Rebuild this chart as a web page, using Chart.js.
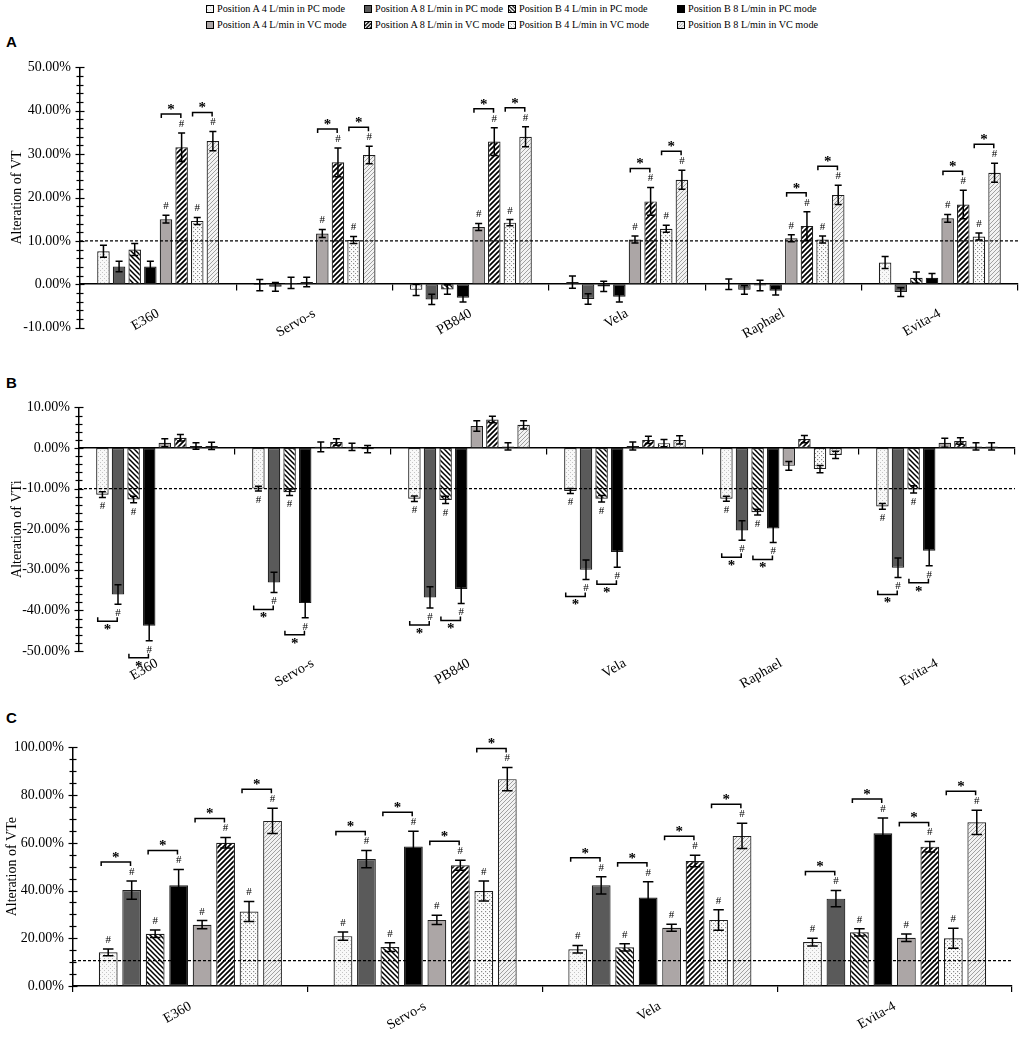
<!DOCTYPE html>
<html>
<head>
<meta charset="utf-8">
<script src="https://cdn.jsdelivr.net/npm/chart.js@4.4.1/dist/chart.umd.min.js"></script>
<style>
  body { margin: 0; background: #fff; }
  #wrap { position: relative; width: 1021px; height: 1039px; background: #fff; overflow: hidden; }
  canvas.panel { position: absolute; left: 0; }
  .tag { position: absolute; left: 6px; font: bold 15px "Liberation Sans", Arial, sans-serif; }
  .leg { position: absolute; font: 10.2px "Liberation Serif", serif; white-space: nowrap; display: flex; align-items: center; }
  .leg canvas { width: 8px; height: 8px; border: 1px solid #000; margin-right: 3px; box-sizing: border-box; }
</style>
</head>
<body>
<div id="wrap">
  <div id="legend"></div>
  <div class="tag" style="top:33px">A</div>
  <div class="tag" style="top:374px">B</div>
  <div class="tag" style="top:709px">C</div>
  <canvas id="chartA" class="panel" width="1021" height="295" style="top:50px"></canvas>
  <canvas id="chartB" class="panel" width="1021" height="315" style="top:390px"></canvas>
  <canvas id="chartC" class="panel" width="1021" height="309" style="top:730px"></canvas>
</div>
<script>
const seriesNames = [
  'Position A 4 L/min in PC mode', 'Position A 8 L/min in PC mode',
  'Position B 4 L/min in PC mode', 'Position B 8 L/min in PC mode',
  'Position A 4 L/min in VC mode', 'Position A 8 L/min in VC mode',
  'Position B 4 L/min in VC mode', 'Position B 8 L/min in VC mode'
]

// panel A - VT
const vtCats = ['E360', 'Servo-s', 'PB840', 'Vela', 'Raphael', 'Evita-4']
const vtMean = [
  [7.6, -0.2, -1.3, 0.5, 0.0, 5.0],
  [4.1, -0.6, -3.5, -3.4, -1.3, -1.8],
  [8.0, 0.3, -1.2, -0.5, -0.3, 1.5],
  [4.1, 0.5, -3.1, -2.9, -1.5, 1.5],
  [15.0, 11.7, 13.2, 10.3, 10.6, 15.2],
  [31.6, 28.1, 32.9, 19.1, 13.4, 18.4],
  [14.6, 10.2, 14.2, 12.8, 10.3, 11.0],
  [33.0, 29.8, 34.0, 24.1, 20.6, 25.7]
]
const vtErr = [
  [1.4, 1.3, 1.3, 1.4, 1.2, 1.4],
  [1.2, 1.0, 1.2, 1.2, 1.0, 1.0],
  [1.4, 1.3, 1.1, 1.2, 1.2, 1.3],
  [1.2, 1.1, 1.0, 1.2, 1.0, 1.0],
  [0.9, 0.9, 0.8, 0.8, 0.8, 0.9],
  [3.3, 3.3, 3.2, 3.2, 3.3, 3.3],
  [0.8, 0.8, 0.7, 0.8, 0.8, 0.8],
  [2.2, 2.0, 2.3, 2.2, 2.2, 2.2]
]

// panel B - VTi
const vtiCats = ['E360', 'Servo-s', 'PB840', 'Vela', 'Raphael', 'Evita-4']
const vtiMean = [
  [-11.5, -10.0, -12.5, -10.6, -12.5, -14.4],
  [-36.1, -33.1, -36.8, -30.0, -20.3, -29.5],
  [-12.7, -10.9, -12.8, -12.5, -15.8, -10.2],
  [-43.8, -38.2, -34.7, -25.6, -19.8, -25.3],
  [1.3, 0.3, 5.4, 0.5, -4.4, 1.3],
  [2.5, 1.5, 7.0, 2.0, 2.2, 1.7],
  [0.5, 0.3, 0.4, 1.2, -5.2, 0.4],
  [0.5, -0.3, 5.7, 2.0, -1.7, 0.4]
]
const vtiErr = [
  [0.7, 0.6, 0.7, 0.6, 0.6, 0.7],
  [2.4, 2.5, 2.6, 2.4, 2.4, 2.4],
  [0.8, 0.8, 0.9, 0.8, 0.7, 0.9],
  [3.7, 3.6, 3.6, 3.8, 3.5, 3.7],
  [1.0, 1.2, 1.3, 1.0, 1.1, 1.1],
  [0.8, 0.8, 0.8, 0.9, 0.9, 0.8],
  [0.8, 0.9, 0.9, 0.9, 0.9, 0.9],
  [0.9, 0.9, 1.0, 1.0, 0.9, 0.9]
]

// panel C - VTe
const vteCats = ['E360', 'Servo-s', 'Vela', 'Evita-4']
const vteMean = [
  [14.1, 20.9, 15.4, 18.4],
  [40.2, 53.2, 42.2, 36.6],
  [21.9, 16.3, 16.2, 22.5],
  [42.2, 58.5, 37.1, 64.0],
  [25.7, 27.7, 24.4, 20.2],
  [60.0, 50.6, 52.4, 58.4],
  [31.2, 39.8, 27.7, 20.0],
  [69.2, 86.7, 62.9, 68.6]
]
const vteErr = [
  [1.4, 1.7, 1.6, 1.6],
  [3.8, 3.6, 3.6, 3.4],
  [1.6, 1.8, 1.5, 1.5],
  [6.6, 6.4, 6.6, 6.4],
  [1.7, 1.9, 1.5, 1.6],
  [2.2, 2.1, 2.4, 2.2],
  [4.2, 4.2, 4.3, 4.2],
  [5.3, 4.9, 5.3, 5.1]
]

Chart.defaults.font.family = '"Liberation Serif", "Times New Roman", serif'
Chart.defaults.color = '#000'

// fill patterns
function tile(size, draw) {
  const c = document.createElement('canvas')
  c.width = size; c.height = size
  const g = c.getContext('2d')
  draw(g, size)
  return c
}
const tiles = [
  tile(4, (g, s) => { g.fillStyle = '#f8f8f8'; g.fillRect(0, 0, s, s); g.fillStyle = '#c4c4c4'; g.fillRect(0, 0, 1, 1); g.fillRect(2, 2, 1, 1) }),
  tile(4, (g, s) => { g.fillStyle = '#5a5a5a'; g.fillRect(0, 0, s, s) }),
  tile(5, (g, s) => {
    g.fillStyle = '#fff'; g.fillRect(0, 0, s, s)
    g.strokeStyle = '#000'; g.lineWidth = 1.5
    g.beginPath(); g.moveTo(-1, -1); g.lineTo(s + 1, s + 1); g.moveTo(-1, s - 1); g.lineTo(1, s + 1); g.moveTo(s - 1, -1); g.lineTo(s + 1, 1); g.stroke()
  }),
  tile(4, (g, s) => { g.fillStyle = '#000'; g.fillRect(0, 0, s, s) }),
  tile(4, (g, s) => { g.fillStyle = '#aca6a6'; g.fillRect(0, 0, s, s) }),
  tile(5, (g, s) => {
    g.fillStyle = '#fff'; g.fillRect(0, 0, s, s)
    g.strokeStyle = '#000'; g.lineWidth = 1.7
    g.beginPath(); g.moveTo(-1, s + 1); g.lineTo(s + 1, -1); g.moveTo(-1, 1); g.lineTo(1, -1); g.moveTo(s - 1, s + 1); g.lineTo(s + 1, s - 1); g.stroke()
  }),
  tile(4, (g, s) => { g.fillStyle = '#fbfbfb'; g.fillRect(0, 0, s, s); g.fillStyle = '#8a8a8a'; g.fillRect(1, 1, 1.2, 1.2); g.fillRect(3, 3, 1, 1) }),
  tile(4, (g, s) => {
    g.fillStyle = '#f2f2f2'; g.fillRect(0, 0, s, s)
    g.strokeStyle = '#a0a0a0'; g.lineWidth = 1
    g.beginPath(); g.moveTo(-1, s + 1); g.lineTo(s + 1, -1); g.stroke()
  })
]
const patCtx = document.createElement('canvas').getContext('2d')
const fills = tiles.map(t => patCtx.createPattern(t, 'repeat'))

// legend
const legCols = [206, 364, 508, 677]
const legRows = [3, 19]
const legend = document.getElementById('legend')
seriesNames.forEach((name, i) => {
  const item = document.createElement('div')
  item.className = 'leg'
  item.style.left = legCols[i % 4] + 'px'
  item.style.top = legRows[Math.floor(i / 4)] + 'px'
  const sw = document.createElement('canvas')
  sw.width = 8; sw.height = 8
  const g = sw.getContext('2d')
  g.fillStyle = g.createPattern(tiles[i], 'repeat')
  g.fillRect(0, 0, 8, 8)
  item.appendChild(sw)
  item.appendChild(document.createTextNode(name))
  legend.appendChild(item)
})

// error bars, #, brackets, dashed reference line
const marksPlugin = {
  id: 'marks',
  afterDatasetsDraw(chart, args, opts) {
    const { ctx, chartArea } = chart
    const ys = chart.scales.y
    ctx.save()
    ctx.strokeStyle = '#000'
    ctx.fillStyle = '#000'
    const ty = ys.getPixelForValue(opts.threshold)
    ctx.lineWidth = 1.3
    ctx.setLineDash([3, 2])
    ctx.beginPath(); ctx.moveTo(chartArea.left, ty); ctx.lineTo(chartArea.right, ty); ctx.stroke()
    ctx.setLineDash([])

    const ends = chart.data.datasets.map((ds, i) => ds.data.map((v, j) => {
      const e = opts.errs[i][j]
      return { top: ys.getPixelForValue(v + e), bot: ys.getPixelForValue(v - e) }
    }))

    ctx.lineWidth = 1.5
    ctx.textAlign = 'center'
    ctx.textBaseline = 'middle'
    chart.data.datasets.forEach((ds, i) => {
      const meta = chart.getDatasetMeta(i)
      meta.data.forEach((bar, j) => {
        const { top, bot } = ends[i][j]
        const cap = bar.width * 0.28
        ctx.beginPath()
        ctx.moveTo(bar.x, top); ctx.lineTo(bar.x, bot)
        ctx.moveTo(bar.x - cap, top); ctx.lineTo(bar.x + cap, top)
        ctx.moveTo(bar.x - cap, bot); ctx.lineTo(bar.x + cap, bot)
        ctx.stroke()
        if (opts.hash.includes(i)) {
          ctx.font = '11px "Liberation Serif", serif'
          const hy = ds.data[j] >= 0 ? top - 9 : bot + 9
          ctx.fillText('#', bar.x, hy)
        }
      })
    })

    opts.pairs.forEach(([a, b]) => {
      const ma = chart.getDatasetMeta(a), mb = chart.getDatasetMeta(b)
      ma.data.forEach((ba, j) => {
        const bb = mb.data[j]
        const pitch = bb.x - ba.x
        const x1 = ba.x - pitch * 0.3, x2 = bb.x - pitch * 0.05
        let yb, tick, sy
        if (opts.dir > 0) {
          yb = Math.min(ends[a][j].top, ends[b][j].top) - 19
          tick = 4; sy = yb - 4
        } else {
          yb = Math.max(ends[a][j].bot, ends[b][j].bot) + 17
          tick = -4; sy = yb + 9
        }
        ctx.beginPath()
        ctx.moveTo(x1, yb + tick); ctx.lineTo(x1, yb); ctx.lineTo(x2, yb); ctx.lineTo(x2, yb + tick)
        ctx.stroke()
        ctx.font = 'bold 15px "Liberation Serif", serif'
        ctx.fillText('*', (x1 + x2) / 2, sy)
      })
    })
    ctx.restore()
  },
  afterDraw(chart) {
    // y tick marks crossing the axis line
    const ys = chart.scales.y
    const { ctx } = chart
    const x = ys.right
    ctx.save()
    ctx.strokeStyle = '#000'
    ctx.lineWidth = 1.2
    ys.ticks.forEach(t => {
      const y = Math.round(ys.getPixelForValue(t.value)) + 0.5
      const len = t.label ? 4.5 : 3.5
      ctx.beginPath(); ctx.moveTo(x - len, y); ctx.lineTo(x + len, y); ctx.stroke()
    })
    ctx.restore()
  }
}

function pctLabel(every) {
  return v => Math.abs(v / every - Math.round(v / every)) < 1e-6 ? v.toFixed(2) + '%' : ''
}

function makeChart(id, cats, means, errs, cfg) {
  const xTicks = { minRotation: 30, maxRotation: 30, autoSkip: false, padding: cfg.labelPad, font: { size: 14 }, color: '#000' }
  const scales = {
    x: {
      type: 'category',
      position: cfg.atZero ? { y: 0 } : 'bottom',
      offset: true,
      grid: { display: true, drawOnChartArea: false, drawTicks: true, tickLength: 6, color: '#000', lineWidth: 1.2, offset: true },
      border: { display: true, color: '#000', width: 1.5 },
      ticks: Object.assign({}, xTicks, { display: !cfg.bottomLabels }),
      afterFit: s => { s.height = cfg.xHeight }
    },
    y: {
      min: cfg.yMin,
      max: cfg.yMax,
      ticks: { stepSize: cfg.step, autoSkip: false, callback: pctLabel(cfg.every), padding: 9, font: { size: 14 }, color: '#000' },
      grid: { display: false, drawTicks: false },
      border: { display: true, color: '#000', width: 1.5 },
      title: { display: true, text: cfg.title, font: { size: 14 }, color: '#000', padding: { top: cfg.titlePad, bottom: 0 } },
      afterFit: s => { s.width = cfg.yWidth }
    }
  }
  if (cfg.bottomLabels) {
    scales.x2 = {
      type: 'category',
      labels: cats,
      position: 'bottom',
      offset: true,
      grid: { display: false, drawTicks: false },
      border: { display: false },
      ticks: xTicks,
      afterFit: s => { s.height = cfg.bottomLabels }
    }
  }
  return new Chart(document.getElementById(id), {
    type: 'bar',
    data: {
      labels: cats,
      datasets: seriesNames.map((name, i) => ({
        label: name,
        data: means[i],
        backgroundColor: fills[i],
        borderColor: '#1e1e1e',
        borderWidth: 1.2,
        borderSkipped: false,
        barPercentage: 0.8,
        categoryPercentage: 0.8
      }))
    },
    options: {
      responsive: false,
      animation: false,
      layout: { padding: cfg.padding },
      scales: scales,
      plugins: {
        legend: { display: false },
        tooltip: { enabled: false },
        marks: { errs: errs, hash: cfg.hash, pairs: cfg.pairs, dir: cfg.dir, threshold: cfg.threshold }
      }
    },
    plugins: [marksPlugin]
  })
}

makeChart('chartA', vtCats, vtMean, vtErr, {
  atZero: true, xHeight: 0, labelPad: 15, yMin: -10, yMax: 50, step: 2, every: 10,
  title: 'Alteration of VT', titlePad: 9, yWidth: 80,
  padding: { top: 16, bottom: 14, left: 0, right: 3 },
  hash: [4, 5, 6, 7], pairs: [[4, 5], [6, 7]], dir: 1, threshold: 10
})

makeChart('chartB', vtiCats, vtiMean, vtiErr, {
  atZero: true, xHeight: 0, bottomLabels: 54, labelPad: 4, yMin: -50, yMax: 10, step: 2, every: 10,
  title: 'Alteration of VTi', titlePad: 9, yWidth: 79,
  padding: { top: 14, bottom: 0, left: 0, right: 6 },
  hash: [0, 1, 2, 3], pairs: [[0, 1], [2, 3]], dir: -1, threshold: -10
})

makeChart('chartC', vteCats, vteMean, vteErr, {
  atZero: false, xHeight: 53, labelPad: 6, yMin: 0, yMax: 100, step: 5, every: 20,
  title: 'Alteration of VTe', titlePad: 4, yWidth: 73,
  padding: { top: 15, bottom: 0, left: 0, right: 9 },
  hash: [0, 1, 2, 3, 4, 5, 6, 7], pairs: [[0, 1], [2, 3], [4, 5], [6, 7]], dir: 1, threshold: 10.6
})
</script>
</body>
</html>
